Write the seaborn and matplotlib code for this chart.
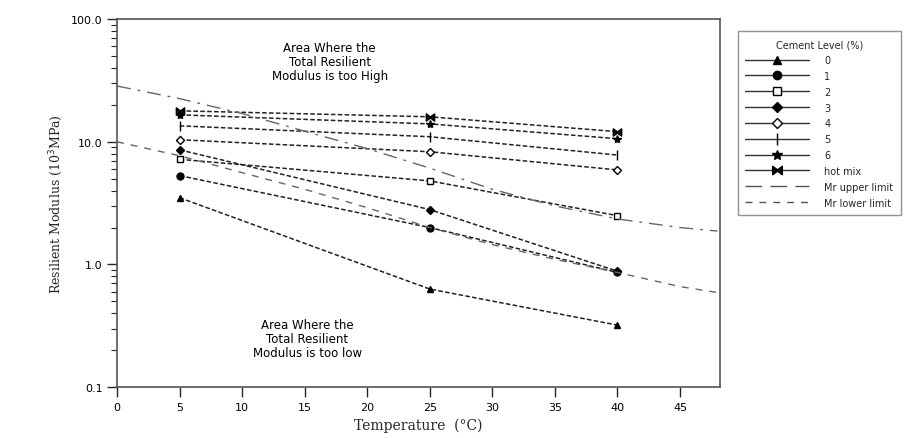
import matplotlib
matplotlib.use("Agg")
import matplotlib.pyplot as plt
import matplotlib.ticker as mticker
import seaborn as sns
import pandas as pd

# data
temps = [5, 25, 40]
cement_levels = ['0', '1', '2', '3', '4', '5', '6', 'hot mix']
mr_0 = [3.5, 0.63, 0.32]
mr_1 = [5.3, 2.0, 0.86]
mr_2 = [7.2, 4.8, 2.5]
mr_3 = [8.6, 2.8, 0.88]
mr_4 = [10.4, 8.3, 5.9]
mr_5 = [13.5, 11.0, 7.8]
mr_6 = [16.6, 14.0, 10.6]
mr_hot = [17.9, 16.0, 12.1]

limit_temps = [0, 5, 10, 15, 20, 25, 30, 35, 40, 45, 48]
upper_limit = [28.5, 22.5, 17.0, 12.2, 8.8, 6.1, 4.1, 3.0, 2.35, 2.0, 1.87]
lower_limit = [10.0, 7.7, 5.6, 4.1, 2.9, 2.0, 1.45, 1.1, 0.86, 0.66, 0.59]

series = [mr_0, mr_1, mr_2, mr_3, mr_4, mr_5, mr_6, mr_hot]
markers = ['^', 'o', 's', 'D', 'D', '|', '*', r'$\bowtie$']
msizes = [4.5, 5, 5, 4, 4, 7, 6, 6]
faces = ['black', 'black', 'white', 'black', 'white', 'black', 'black', 'black']

sns.set_style("white")

fig, ax = plt.subplots(figsize=(9.22, 4.39), dpi=100)
fig.subplots_adjust(left=0.127, right=0.781, bottom=0.116, top=0.954)

rows = []
for lvl, vals in zip(cement_levels, series):
    for t, v in zip(temps, vals):
        rows.append({'level': lvl, 'temp': t, 'mr': v})
df = pd.DataFrame(rows)

handles = []
for lvl, mk, ms, fc in zip(cement_levels, markers, msizes, faces):
    d = df[df['level'] == lvl]
    sns.lineplot(data=d, x='temp', y='mr', ax=ax, color='#222222', lw=1.1,
                 linestyle=(0, (3, 1.5)), legend=False)
    ax.plot(d['temp'], d['mr'], ls='none', marker=mk, ms=ms, mfc=fc,
            mec='black', mew=1.0, color='black')
    h, = ax.plot([], [], color='#333333', lw=1.0, marker=mk, ms=ms + 1,
                 mfc=fc, mec='black', label=lvl)
    handles.append(h)

lim = pd.DataFrame({'temp': limit_temps, 'upper': upper_limit, 'lower': lower_limit})
sns.lineplot(data=lim, x='temp', y='upper', ax=ax, color='#666666', lw=1.0,
             linestyle=(0, (10, 5, 2, 5)), legend=False)
sns.lineplot(data=lim, x='temp', y='lower', ax=ax, color='#666666', lw=1.0,
             linestyle=(0, (5, 5)), legend=False)
hu, = ax.plot([], [], color='#555555', lw=1.0, ls=(0, (12, 6)), label='Mr upper limit')
hl, = ax.plot([], [], color='#555555', lw=1.0, ls=(0, (5, 5)), label='Mr lower limit')
handles += [hu, hl]

ax.set_yscale('log')
ax.set_ylim(0.1, 100)
ax.set_xlim(0, 48.2)
ax.set_xticks(range(0, 50, 5))
ax.yaxis.set_major_locator(mticker.FixedLocator([0.1, 1, 10, 100]))
ax.yaxis.set_major_formatter(mticker.FuncFormatter(lambda v, p: f"{v:.1f}"))
ax.yaxis.set_minor_locator(mticker.LogLocator(base=10, subs=range(2, 10)))
ax.yaxis.set_minor_formatter(mticker.NullFormatter())
ax.tick_params(axis='both', which='major', direction='out', length=7, width=1,
               labelsize=8, left=True, bottom=True, labelcolor='black')
ax.tick_params(axis='y', which='minor', direction='out', length=4, width=0.8, left=True)
for s in ax.spines.values():
    s.set_color('#555555')
    s.set_linewidth(1.2)

ax.set_xlabel('Temperature  (°C)', family='DejaVu Serif', fontsize=10)
ax.set_ylabel('Resilient Modulus (10$^3$MPa)', family='DejaVu Serif', fontsize=9)

ax.text(17, 45, 'Area Where the\nTotal Resilient\nModulus is too High',
        ha='center', va='center', fontsize=8.5, linespacing=1.1, color='black')
ax.text(15.2, 0.25, 'Area Where the\nTotal Resilient\nModulus is too low',
        ha='center', va='center', fontsize=8.5, linespacing=1.1, color='black')

leg = ax.legend(handles=handles, title='Cement Level (%)', loc='upper left',
                bbox_to_anchor=(1.021, 0.98), fontsize=7, title_fontsize=7,
                frameon=True, fancybox=False, edgecolor='#777777',
                handlelength=6.5, labelspacing=0.6, borderpad=0.8, handletextpad=1.6)

fig.savefig('out.png', dpi=100)
